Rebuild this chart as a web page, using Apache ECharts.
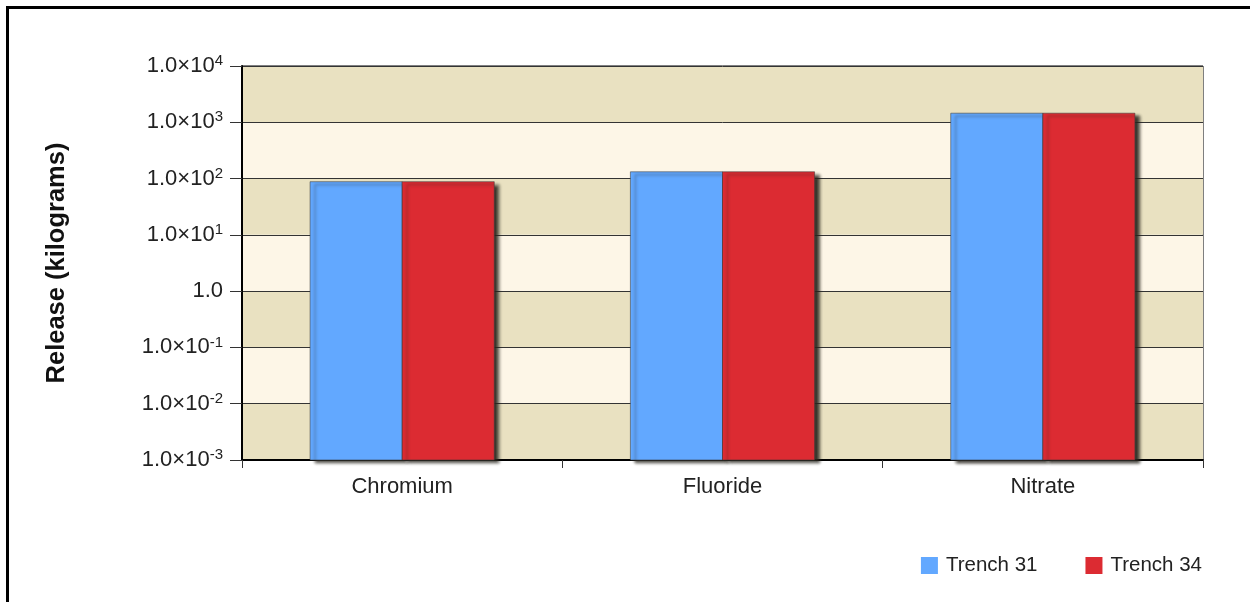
<!DOCTYPE html>
<html>
<head>
<meta charset="utf-8">
<script src="https://cdn.jsdelivr.net/npm/echarts@6/dist/echarts.min.js"></script>
<style>
html,body{margin:0;padding:0;background:#fff;}
#c{width:1250px;height:602px;}
</style>
</head>
<body>
<div id="c"></div>
<script>
var categories = ['Chromium', 'Fluoride', 'Nitrate'];
var trench31 = [88, 132, 1450];
var trench34 = [88, 132, 1450];
var seriesNames = ['Trench 31', 'Trench 34'];
var seriesColors = ['#62a8ff', '#dc2b32'];
var yMin = 0.001, yMax = 10000;

var chart = echarts.init(document.getElementById('c'));
var FONT = '"Liberation Sans", Arial, sans-serif';
var GAP = 0.425;

function yLabel(v) {
  var e = Math.round(Math.log10(v));
  if (e === 0) return '1.0';
  return '1.0×10{sup|' + e + '}';
}

function makeRender(side) {
  return function (params, api) {
    var ci = api.value(0);
    var v = api.value(1);
    var top = api.coord([ci, v]);
    var base = api.coord([ci, yMin]);
    var band = api.coord([1, yMin])[0] - api.coord([0, yMin])[0];
    var w = band * (1 - GAP) / 2;
    var x = side === 0 ? top[0] - w : top[0];
    return {
      type: 'rect',
      shape: { x: x, y: top[1], width: w, height: base[1] - top[1] },
      style: api.style({
        fill: seriesColors[side],
        stroke: 'rgba(60,60,60,0.55)', lineWidth: 1,
        shadowColor: 'rgba(40,38,30,0.9)', shadowBlur: 3, shadowOffsetX: 5, shadowOffsetY: 3
      })
    };
  };
}

function toData(arr) {
  return arr.map(function (v, i) { return [i, v]; });
}

chart.setOption({
  animation: false,
  textStyle: { fontFamily: FONT },
  graphic: [
    { type: 'line', shape: { x1: 6, y1: 7.5, x2: 1250, y2: 7.5 }, style: { stroke: '#000', lineWidth: 3 } },
    { type: 'line', shape: { x1: 7.5, y1: 6, x2: 7.5, y2: 602 }, style: { stroke: '#000', lineWidth: 3 } }
  ],
  grid: { left: 242, right: 47, top: 66, bottom: 142, show: true, borderColor: '#000', borderWidth: 1, backgroundColor: 'transparent' },
  legend: {
    right: 43, top: 550, itemWidth: 17, itemHeight: 17, itemGap: 48,
    icon: 'rect',
    textStyle: { fontSize: 20.5, color: '#222', fontFamily: FONT, padding: [0, 0, 0, 3] },
    data: seriesNames
  },
  xAxis: {
    type: 'category', data: categories,
    axisLine: { lineStyle: { color: '#000', width: 2 } },
    axisTick: { show: true, length: 8, lineStyle: { color: '#333' } },
    axisLabel: { fontSize: 22, color: '#222', margin: 16, fontFamily: FONT },
    splitLine: { show: false }
  },
  yAxis: {
    type: 'log', logBase: 10, min: yMin, max: yMax,
    name: 'Release (kilograms)', nameLocation: 'middle', nameGap: 172,
    nameTextStyle: { fontSize: 25.5, fontWeight: 'bold', color: '#111', fontFamily: FONT },
    axisLine: { show: true, lineStyle: { color: '#000', width: 2 } },
    axisTick: { show: true, length: 12, lineStyle: { color: '#333' } },
    axisLabel: {
      formatter: yLabel, fontSize: 22, color: '#222', margin: 19, fontFamily: FONT,
      rich: { sup: { fontSize: 15, verticalAlign: 'top', padding: [0, 0, 10, 0], color: '#222', fontFamily: FONT } }
    },
    splitLine: { show: true, lineStyle: { color: '#333', width: 1 } },
    splitArea: { show: true, areaStyle: { color: ['#e9e1c1', '#fdf6e7'] } }
  },
  series: [
    {
      name: seriesNames[0], type: 'custom', renderItem: makeRender(0),
      encode: { x: 0, y: 1 }, data: toData(trench31),
      itemStyle: { color: seriesColors[0] }
    },
    {
      name: seriesNames[1], type: 'custom', renderItem: makeRender(1),
      encode: { x: 0, y: 1 }, data: toData(trench34),
      itemStyle: { color: seriesColors[1] }
    }
  ]
});
</script>
</body>
</html>
